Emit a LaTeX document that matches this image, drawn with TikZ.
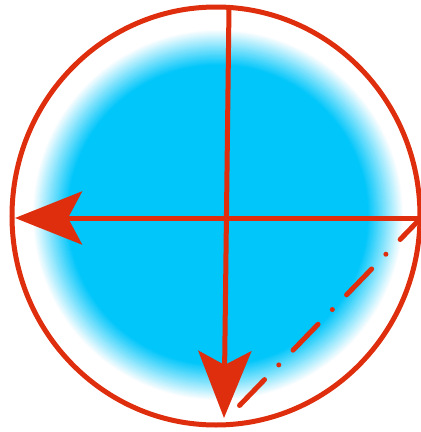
\documentclass[tikz,border=0pt]{standalone}
\usetikzlibrary{arrows.meta}
\definecolor{redl}{RGB}{222,46,14}
\definecolor{blu}{RGB}{0,198,250}
\begin{document}
\begin{tikzpicture}[x=1pt,y=-1pt,
  redline/.style={draw=redl,line width=5pt},
  bigtip/.style={-{Stealth[length=67pt,width=53pt,inset=14pt]}}]
\useasboundingbox (0,0) rectangle (421,432);
% blurred blue blob
\foreach \i in {0,...,36} {
  \pgfmathtruncatemacro\p{100*\i/36}
  \fill[blu!\p!white] (218,215) circle ({186-\i});
}
\coordinate (c) at (216,216);
\draw[redline] (c) ellipse [x radius=204, y radius=209];
\coordinate (top) at (229,7);
\coordinate (bot) at (224,418);
\coordinate (right) at (420,218);
\coordinate (left) at (15,218);
\coordinate (ds) at (239.5,405.5);
\coordinate (de) at (419,220);
\draw[redline,bigtip] (top) -- (bot);
\draw[redline,bigtip] (right) -- (left);
\draw[redline,line cap=round,dash pattern=on 36pt off 20.5pt on 0pt off 20.5pt] (ds) -- (de);
\end{tikzpicture}
\end{document}
